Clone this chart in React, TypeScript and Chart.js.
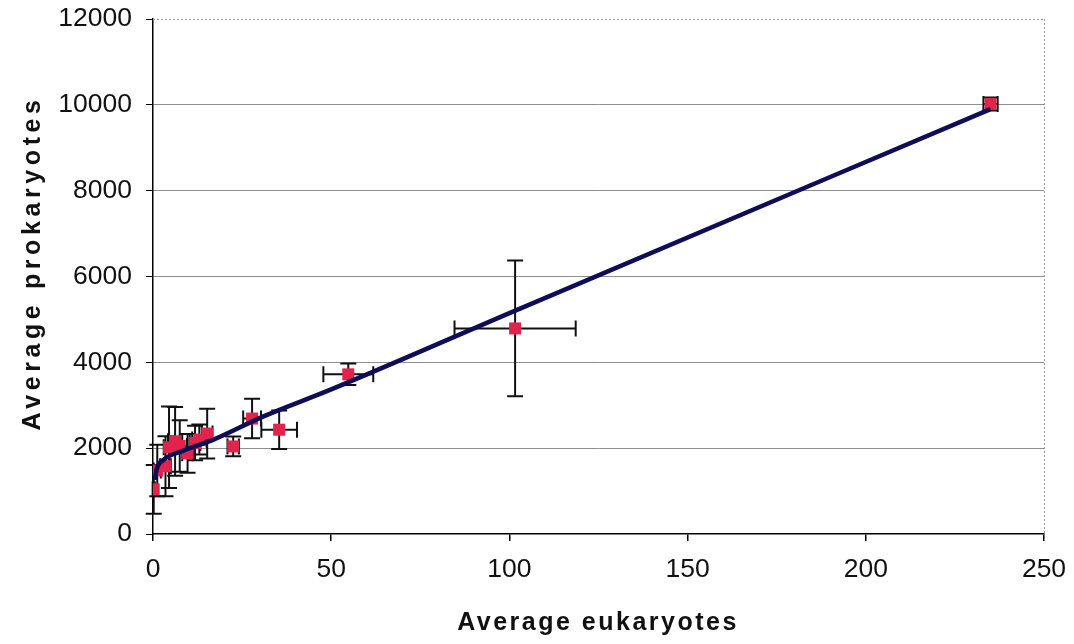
import { useEffect, useRef } from "react";
import { Chart, registerables } from "chart.js";

Chart.register(...registerables);

// Measured points (x: average eukaryotes, y: average prokaryotes)
const eukaryotes = [0.2, 1.2, 3.5, 4.5, 6.2, 7.5, 9.7, 11.8, 13.0, 15.2, 22.5, 27.8, 35.4, 54.8, 101.6, 235];
const prokaryotes = [1040, 1480, 1580, 2020, 2160, 2050, 1880, 2120, 2200, 2340, 2040, 2690, 2430, 3720, 4790, 10020];
const eukError = [0.3, 1.0, 1.5, 1.5, 2.0, 2.0, 1.5, 1.5, 2.0, 1.5, 1.6, 2.5, 5.0, 7.0, 17.0, 2.0];
const prokError = [570, 600, 700, 950, 800, 600, 450, 400, 350, 580, 230, 460, 450, 250, 1580, 150];

// Trendline
const trendX = [0.5, 1, 3, 8, 17, 31, 50, 101.5, 235];
const trendY = [1260, 1500, 1730, 1925, 2200, 2740, 3370, 5200, 9900];

const xTitle = "Average eukaryotes";
const yTitle = "Average prokaryotes";

const FONT = '"Liberation Sans", Arial, Helvetica, sans-serif';

const decorPlugin = {
  id: "decor",
  beforeDatasetsDraw(chart: any) {
    const { ctx, scales } = chart;
    const x = scales.x;
    const y = scales.y;
    const cap = 8;
    ctx.save();
    ctx.strokeStyle = "#111111";
    ctx.lineWidth = 2;
    for (let i = 0; i < eukaryotes.length; i++) {
      const px = x.getPixelForValue(eukaryotes[i]);
      const py = y.getPixelForValue(prokaryotes[i]);
      const x1 = x.getPixelForValue(eukaryotes[i] - eukError[i]);
      const x2 = x.getPixelForValue(eukaryotes[i] + eukError[i]);
      const y1 = y.getPixelForValue(prokaryotes[i] - prokError[i]);
      const y2 = y.getPixelForValue(prokaryotes[i] + prokError[i]);
      ctx.beginPath();
      ctx.moveTo(x1, py);
      ctx.lineTo(x2, py);
      ctx.moveTo(x1, py - cap);
      ctx.lineTo(x1, py + cap);
      ctx.moveTo(x2, py - cap);
      ctx.lineTo(x2, py + cap);
      ctx.moveTo(px, y1);
      ctx.lineTo(px, y2);
      ctx.moveTo(px - cap, y1);
      ctx.lineTo(px + cap, y1);
      ctx.moveTo(px - cap, y2);
      ctx.lineTo(px + cap, y2);
      ctx.stroke();
    }
    ctx.restore();
  },
  afterDraw(chart: any) {
    const { ctx, chartArea } = chart;
    ctx.save();
    // dotted top and right frame
    ctx.strokeStyle = "#9a9a9a";
    ctx.lineWidth = 1;
    ctx.setLineDash([2, 2]);
    ctx.beginPath();
    ctx.moveTo(chartArea.left, chartArea.top + 0.5);
    ctx.lineTo(chartArea.right, chartArea.top + 0.5);
    ctx.moveTo(chartArea.right + 0.5, chartArea.top);
    ctx.lineTo(chartArea.right + 0.5, chartArea.bottom);
    ctx.stroke();
    ctx.setLineDash([]);
    // axis titles
    ctx.fillStyle = "#111111";
    ctx.font = `bold 25px ${FONT}`;
    ctx.textAlign = "center";
    ctx.textBaseline = "alphabetic";
    (ctx as any).letterSpacing = "2.5px";
    ctx.fillText(xTitle, 598, 630);
    (ctx as any).letterSpacing = "4.6px";
    ctx.translate(40, 263);
    ctx.rotate(-Math.PI / 2);
    ctx.fillText(yTitle, 0, 0);
    (ctx as any).letterSpacing = "0px";
    ctx.restore();
  },
};

export default function App() {
  const canvasRef = useRef<HTMLCanvasElement | null>(null);

  useEffect(() => {
    if (!canvasRef.current) return;
    const points = eukaryotes.map((v, i) => ({ x: v, y: prokaryotes[i] }));
    const trend = trendX.map((v, i) => ({ x: v, y: trendY[i] }));
    const chart = new Chart(canvasRef.current, {
      type: "scatter",
      data: {
        datasets: [
          {
            type: "line",
            label: "Trend",
            data: trend,
            borderColor: "#0d0d58",
            borderWidth: 4.5,
            pointRadius: 0,
            cubicInterpolationMode: "monotone",
            fill: false,
            order: 0,
          } as any,
          {
            label: "Data",
            data: points,
            pointStyle: "rect",
            pointRadius: 8.5,
            pointBackgroundColor: "#e2234c",
            pointBorderWidth: 0,
            borderColor: "#e2234c",
            order: 1,
          },
        ],
      },
      options: {
        animation: false,
        responsive: true,
        maintainAspectRatio: false,
        layout: { padding: { top: 19, right: 30, left: 0, bottom: 0 } },
        plugins: {
          legend: { display: false },
          tooltip: { enabled: false },
        },
        scales: {
          x: {
            type: "linear",
            min: 0,
            max: 250,
            afterFit: (s: any) => {
              s.height = 110;
              s.paddingLeft = 0;
              s.paddingRight = 0;
            },
            ticks: {
              stepSize: 50,
              color: "#111111",
              font: { family: FONT, size: 26.5 },
              padding: 13,
              callback: (v: any) => String(v),
            },
            grid: {
              drawOnChartArea: false,
              color: "#000000",
              tickColor: "#000000",
              tickLength: 7,
              lineWidth: 1.5,
            },
            border: { color: "#000000", width: 1.5 },
          },
          y: {
            type: "linear",
            min: 0,
            max: 12000,
            afterFit: (s: any) => {
              s.width = 153;
              s.paddingTop = 0;
              s.paddingBottom = 0;
            },
            ticks: {
              stepSize: 2000,
              color: "#111111",
              font: { family: FONT, size: 26.5 },
              padding: 14,
              callback: (v: any) => String(v),
            },
            grid: {
              color: (c: any) =>
                c.tick && (c.tick.value === 0 || c.tick.value === 12000) ? "rgba(0,0,0,0)" : "#8e8e8e",
              tickColor: "#000000",
              tickLength: 7,
              lineWidth: 1,
            },
            border: { color: "#000000", width: 1.5 },
          },
        },
      },
      plugins: [decorPlugin],
    });
    return () => chart.destroy();
  }, []);

  return (
    <div style={{ position: "absolute", left: 0, top: 0, width: 1074, height: 644, background: "#ffffff" }}>
      <canvas ref={canvasRef} />
    </div>
  );
}
